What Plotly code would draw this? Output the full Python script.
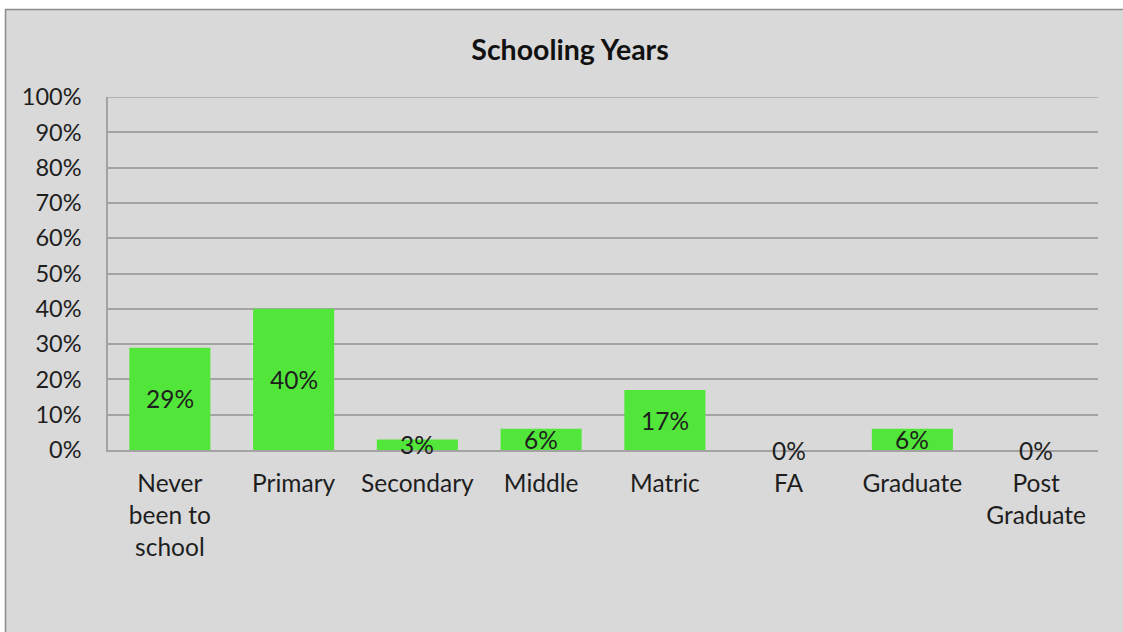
import plotly.graph_objects as go

# Chart data
categories = ["Never<br>been to<br>school", "Primary", "Secondary", "Middle",
              "Matric", "FA", "Graduate", "Post<br>Graduate"]
values = [29, 40, 3, 6, 17, 0, 6, 0]
y_ticks = list(range(0, 101, 10))
y_tick_labels = [f"{t}%" for t in y_ticks]

W, H = 1123, 632
L, R, T, B = 108, 25, 97, 182
PW, PH = W - L - R, H - T - B

FONT = "Lato, 'Open Sans', sans-serif"
BG = "#d9d9d9"
GRID = "#a3a3a3"
BAR = "#52e63a"
TEXT = "#1e1e1e"


def px_x(p):
    return (p - L) / PW


def px_y(p):
    return (H - B - p) / PH


fig = go.Figure(
    go.Bar(
        x=categories,
        y=values,
        marker=dict(color=BAR, line=dict(width=0)),
        hoverinfo="skip",
    )
)

# Value labels centred on each bar
for c, v in zip(categories, values):
    fig.add_annotation(
        x=c, y=v / 2, xref="x", yref="y",
        text=f"{v}%", showarrow=False,
        yanchor="middle", xanchor="center",
        font=dict(family=FONT, size=24.5, color=TEXT),
    )

# White margin strips, chart-area border and the top gridline
shapes = [
    dict(type="rect", xref="paper", yref="paper",
         x0=px_x(0), x1=px_x(5), y0=px_y(H), y1=px_y(0),
         fillcolor="white", line=dict(width=0), layer="below"),
    dict(type="rect", xref="paper", yref="paper",
         x0=px_x(0), x1=px_x(W), y0=px_y(9), y1=px_y(0),
         fillcolor="white", line=dict(width=0), layer="below"),
    dict(type="line", xref="paper", yref="paper",
         x0=px_x(5.5), x1=px_x(5.5), y0=px_y(9), y1=px_y(H),
         line=dict(color="#8c8c8c", width=1.5)),
    dict(type="line", xref="paper", yref="paper",
         x0=px_x(5), x1=px_x(W), y0=px_y(9.5), y1=px_y(9.5),
         line=dict(color="#8c8c8c", width=1.5)),
    dict(type="line", xref="paper", yref="y",
         x0=0, x1=1, y0=100, y1=100,
         line=dict(color=GRID, width=1.5), layer="below"),
]

fig.update_layout(
    width=W, height=H,
    margin=dict(l=L, r=R, t=T, b=B, pad=0),
    paper_bgcolor=BG,
    plot_bgcolor=BG,
    bargap=0.345,
    showlegend=False,
    shapes=shapes,
    title=dict(
        text="<b>Schooling Years</b>",
        x=570 / W, xanchor="center",
        y=1 - 50 / H, yanchor="middle",
        font=dict(family=FONT, size=28.5, color="#111111"),
    ),
    font=dict(family=FONT, color=TEXT),
)

fig.update_xaxes(
    showgrid=False,
    showline=True, linecolor=GRID, linewidth=1.5,
    ticks="", tickfont=dict(family=FONT, size=24.5, color=TEXT),
    ticklabelstandoff=11,
)
fig.update_yaxes(
    range=[0, 100],
    tickvals=y_ticks, ticktext=y_tick_labels,
    showgrid=True, gridcolor=GRID, gridwidth=1.5,
    showline=True, linecolor=GRID, linewidth=1.5,
    zeroline=False,
    ticks="", tickfont=dict(family=FONT, size=23.5, color=TEXT),
    ticklabelstandoff=20,
)

fig.write_html("out.html")
